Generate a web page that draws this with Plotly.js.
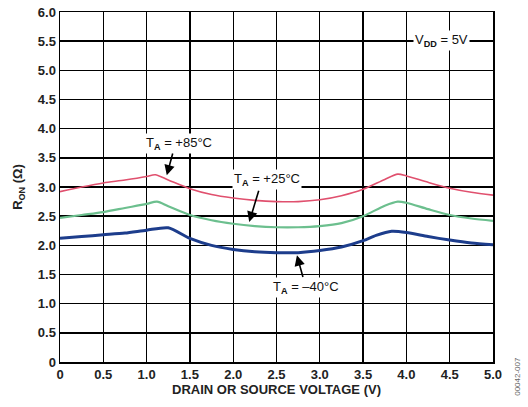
<!DOCTYPE html>
<html>
<head>
<meta charset="utf-8">
<script src="https://cdn.plot.ly/plotly-3.0.1.min.js"></script>
<style>
html,body{margin:0;padding:0;background:#fff;}
#chart{width:528px;height:407px;}
</style>
</head>
<body>
<div id="chart"></div>
<script>
// Data
const xRed = [0, 0.25, 0.5, 0.75, 1.0, 1.1, 1.25, 1.5, 1.75, 2.0, 2.25, 2.5, 2.75, 3.0, 3.25, 3.5, 3.75, 3.9, 4.0, 4.25, 4.5, 4.75, 5.0];
const yRed = [2.92, 3.0, 3.07, 3.12, 3.18, 3.21, 3.12, 2.97, 2.87, 2.81, 2.77, 2.75, 2.75, 2.78, 2.85, 2.96, 3.13, 3.22, 3.19, 3.08, 2.98, 2.91, 2.86];

const xGreen = [0, 0.25, 0.5, 0.75, 1.0, 1.12, 1.25, 1.5, 1.75, 2.0, 2.25, 2.5, 2.75, 3.0, 3.25, 3.5, 3.75, 3.9, 4.0, 4.25, 4.5, 4.75, 5.0];
const yGreen = [2.47, 2.52, 2.57, 2.64, 2.71, 2.75, 2.67, 2.52, 2.43, 2.37, 2.33, 2.31, 2.31, 2.33, 2.38, 2.50, 2.68, 2.75, 2.73, 2.62, 2.52, 2.46, 2.42];

const xBlue = [0, 0.25, 0.5, 0.75, 1.0, 1.25, 1.5, 1.75, 2.0, 2.25, 2.5, 2.75, 3.0, 3.25, 3.5, 3.65, 3.83, 4.0, 4.25, 4.5, 4.75, 5.0];
const yBlue = [2.12, 2.15, 2.18, 2.21, 2.26, 2.30, 2.12, 2.00, 1.93, 1.89, 1.875, 1.875, 1.91, 1.97, 2.08, 2.17, 2.24, 2.22, 2.15, 2.09, 2.04, 2.01];

const xTickVals = [0, 0.5, 1, 1.5, 2, 2.5, 3, 3.5, 4, 4.5, 5];
const xTickText = ["0", "0.5", "1.0", "1.5", "2.0", "2.5", "3.0", "3.5", "4.0", "4.5", "5.0"];
const yTickVals = [0, 0.5, 1, 1.5, 2, 2.5, 3, 3.5, 4, 4.5, 5, 5.5, 6];
const yTickText = ["0", "0.5", "1.0", "1.5", "2.0", "2.5", "3.0", "3.5", "4.0", "4.5", "5.0", "5.5", "6.0"];

const FONT = "Liberation Sans, Arial, sans-serif";

const traces = [
  {x: xRed, y: yRed, mode: "lines", line: {color: "#e0506e", width: 1.6, shape: "spline", smoothing: 0.8}, name: "+85°C"},
  {x: xGreen, y: yGreen, mode: "lines", line: {color: "#6cbf8e", width: 2.2, shape: "spline", smoothing: 0.8}, name: "+25°C"},
  {x: xBlue, y: yBlue, mode: "lines", line: {color: "#1d3d8c", width: 3, shape: "spline", smoothing: 0.7}, name: "-40°C"}
];

function arrow(x, y, ax, ay) {
  return {x: x, y: y, ax: ax, ay: ay, xref: "x", yref: "y", axref: "x", ayref: "y",
    text: "", showarrow: true, arrowhead: 2, arrowsize: 1.3, arrowwidth: 1.6, arrowcolor: "#000"};
}
function label(x, y, t) {
  return {x: x, y: y, xref: "x", yref: "y", text: t, showarrow: false,
    font: {family: FONT, size: 13, color: "#111"}, bgcolor: "#fff", borderpad: 1};
}

const layout = {
  width: 528, height: 407,
  margin: {l: 60, r: 35, t: 12, b: 45},
  paper_bgcolor: "#fff", plot_bgcolor: "#fff",
  showlegend: false,
  font: {family: FONT, color: "#111"},
  xaxis: {
    range: [0, 5], tickvals: xTickVals, ticktext: xTickText,
    showgrid: true, gridcolor: "#000", gridwidth: 1.4,
    showline: true, linecolor: "#000", linewidth: 1.5, mirror: true,
    zeroline: false, ticks: "", ticklen: 0,
    tickfont: {family: FONT, size: 13, color: "#222", weight: "bold"},
    title: {text: "DRAIN OR SOURCE VOLTAGE (V)", font: {family: FONT, size: 13, color: "#222", weight: "bold"}, standoff: 4}
  },
  yaxis: {
    range: [0, 6], tickvals: yTickVals, ticktext: yTickText,
    showgrid: true, gridcolor: "#000", gridwidth: 1.4,
    showline: true, linecolor: "#000", linewidth: 1.5, mirror: true,
    zeroline: false, ticks: "", ticklen: 0,
    tickfont: {family: FONT, size: 13, color: "#222", weight: "bold"},
    title: {text: "R<sub>ON</sub> (Ω)", font: {family: FONT, size: 13, color: "#222", weight: "bold"}, standoff: 12}
  },
  annotations: [
    label(1.376, 3.75, "T<sub><b>A</b></sub> = +85°C"),
    label(2.39, 3.13, "T<sub><b>A</b></sub> = +25°C"),
    label(2.84, 1.28, "T<sub><b>A</b></sub> = –40°C"),
    label(4.41, 5.52, "V<sub><b>DD</b></sub> = 5V"),
    arrow(1.233, 3.20, 1.306, 3.60),
    arrow(2.185, 2.40, 2.30, 2.96),
    arrow(2.736, 1.83, 2.81, 1.43),
    {xref: "paper", yref: "paper", x: 1.055, y: -0.04, text: "00042-007", textangle: -90, showarrow: false,
      font: {family: FONT, size: 8, color: "#666"}, xanchor: "center", yanchor: "middle"}
  ]
};

Plotly.newPlot("chart", traces, layout, {displayModeBar: false, staticPlot: true});
</script>
</body>
</html>
